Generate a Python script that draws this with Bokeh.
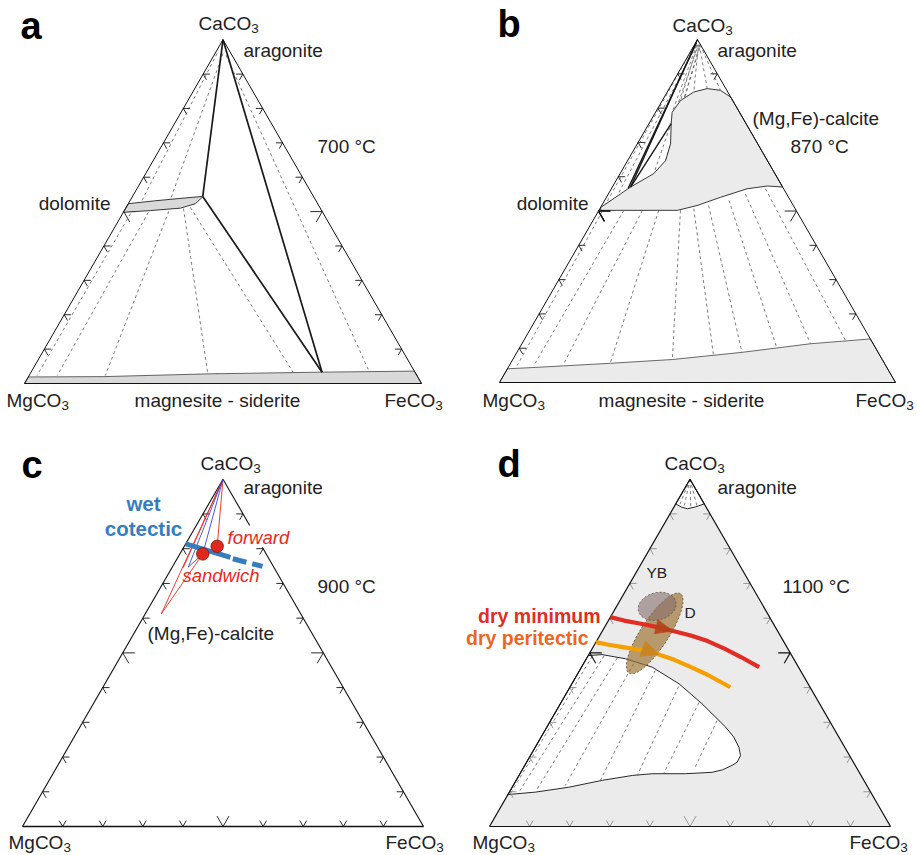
import numpy as np
from bokeh.plotting import figure
from bokeh.models import Range1d
from bokeh.embed import file_html
from bokeh.resources import INLINE
from bokeh.core.properties import value

# ---------------- data: compositions as (X_CaCO3, X_FeCO3); X_MgCO3 = 1 - both ----------------
TICKS = [0.1, 0.2, 0.3, 0.4, 0.5, 0.6, 0.7, 0.8, 0.9]
APEX = (1.0, 0.0)

# panel a  (700 °C)
A_DOLO_UPPER = [(0.523, 0.000), (0.531, 0.060), (0.538, 0.120), (0.544, 0.176)]
A_DOLO_LOWER = [(0.498, 0.000), (0.503, 0.066), (0.510, 0.138), (0.523, 0.169), (0.542, 0.177)]
A_BAND_TOP = [(0.019, 0.000), (0.020, 0.190), (0.028, 0.450), (0.033, 0.733), (0.036, 0.964)]
A_SOLID = [[APEX, (0.544, 0.177)], [(0.544, 0.177), (0.033, 0.733)], [APEX, (0.033, 0.733)]]
A_TIES = [[(0.960, 0.005), (0.525, 0.030)], [(0.960, 0.020), (0.535, 0.100)],
          [(0.955, 0.030), (0.038, 0.848)],
          [(0.494, 0.020), (0.023, 0.020)], [(0.498, 0.063), (0.023, 0.071)],
          [(0.501, 0.113), (0.023, 0.192)], [(0.509, 0.146), (0.026, 0.449)],
          [(0.512, 0.162), (0.030, 0.663)]]

# panel b  (870 °C)
B_CAL_UPPER = [(0.510, 0.000), (0.570, 0.046), (0.609, 0.085), (0.647, 0.096), (0.696, 0.084),
               (0.755, 0.056), (0.788, 0.042), (0.822, 0.046), (0.847, 0.067), (0.857, 0.096),
               (0.852, 0.132), (0.832, 0.168)]
B_CAL_LOWER = [(0.570, 0.430), (0.573, 0.390), (0.565, 0.343), (0.540, 0.288), (0.516, 0.241),
               (0.502, 0.198), (0.502, 0.147), (0.502, 0.063), (0.502, 0.005)]
B_BAND_TOP = [(0.040, 0.000), (0.044, 0.069), (0.056, 0.252), (0.067, 0.403), (0.088, 0.569),
              (0.113, 0.729), (0.127, 0.873)]
B_SOLID = [[APEX, (0.570, 0.046)], [(0.990, 0.002), (0.566, 0.042)], [(0.570, 0.046), (0.755, 0.056)]]
B_TIES = [[(0.980, 0.000), (0.520, 0.008)], [(0.980, 0.006), (0.545, 0.025)],
          [(0.975, 0.012), (0.609, 0.085)], [(0.975, 0.016), (0.647, 0.096)],
          [(0.975, 0.018), (0.696, 0.084)],
          [(0.985, 0.006), (0.788, 0.042)], [(0.985, 0.008), (0.822, 0.046)],
          [(0.985, 0.010), (0.847, 0.067)], [(0.985, 0.012), (0.857, 0.096)],
          [(0.985, 0.014), (0.852, 0.132)],
          [(0.500, 0.010), (0.050, 0.020)], [(0.502, 0.063), (0.050, 0.062)],
          [(0.502, 0.110), (0.055, 0.135)], [(0.502, 0.151), (0.059, 0.251)],
          [(0.502, 0.206), (0.069, 0.402)], [(0.507, 0.237), (0.074, 0.504)],
          [(0.516, 0.270), (0.084, 0.571)], [(0.531, 0.314), (0.098, 0.652)],
          [(0.550, 0.346), (0.113, 0.729)], [(0.565, 0.389), (0.123, 0.812)]]

# panel c  (900 °C)
C_WET_SOLID = [(0.814, 0.000), (0.775, 0.131)]
C_WET_DASHED = [(0.771, 0.139), (0.749, 0.224)]
C_FORWARD = (0.807, 0.082)
C_SANDWICH = (0.785, 0.057)
C_RED_TIES = [[APEX, (0.612, 0.040)], [(0.612, 0.040), C_SANDWICH], [APEX, C_FORWARD],
              [APEX, (0.745, 0.028)]]
C_BLUE_TIES = [[APEX, (0.747, 0.040)], [(0.747, 0.040), C_SANDWICH], [APEX, C_SANDWICH]]

# panel d  (1100 °C)
D_CAP = [(0.929, 0.000), (0.920, 0.018), (0.915, 0.036), (0.920, 0.053), (0.929, 0.071)]
D_CAP_TIES = [[APEX, (0.921, 0.012)], [APEX, (0.917, 0.026)], [APEX, (0.916, 0.044)],
              [APEX, (0.920, 0.058)]]
D_SOLVUS = [(0.492, 0.000), (0.495, 0.033), (0.483, 0.098), (0.459, 0.176), (0.411, 0.267),
            (0.353, 0.354), (0.286, 0.446), (0.257, 0.481), (0.228, 0.508), (0.204, 0.524),
            (0.185, 0.525), (0.176, 0.517), (0.163, 0.499), (0.156, 0.477), (0.152, 0.413),
            (0.152, 0.330), (0.147, 0.283), (0.133, 0.215), (0.113, 0.141), (0.099, 0.065),
            (0.092, 0.000)]
D_TIES = [[(0.490, 0.011), (0.094, 0.005)], [(0.491, 0.040), (0.098, 0.024)],
          [(0.485, 0.076), (0.109, 0.065)], [(0.469, 0.125), (0.118, 0.130)],
          [(0.449, 0.189), (0.133, 0.210)], [(0.403, 0.270), (0.147, 0.295)],
          [(0.357, 0.344), (0.154, 0.358)], [(0.305, 0.415), (0.164, 0.428)]]
D_DRY_MIN = [(0.603, 0.000), (0.593, 0.039), (0.584, 0.086), (0.574, 0.132), (0.562, 0.179),
             (0.550, 0.227), (0.534, 0.277), (0.512, 0.330), (0.488, 0.383), (0.459, 0.443)]
D_DRY_PER = [(0.531, 0.000), (0.524, 0.032), (0.516, 0.078), (0.509, 0.123), (0.497, 0.170),
             (0.480, 0.221), (0.459, 0.273), (0.437, 0.325), (0.401, 0.400)]
D_ARROW_MIN = [(0.569, 0.152), (0.550, 0.227)]
D_ARROW_PER = [(0.504, 0.150), (0.480, 0.221)]
# natural carbonatite fields: centre, semi-axes (fraction of side), tilt (deg)
D_YB = ((0.634, 0.101), 0.034, 0.048, 105)
D_D = ((0.556, 0.134), 0.118, 0.035, 57)

# ---------------- layout ----------------
W, H = 917, 855
PANEL = {"a": (24, 383, 397), "b": (499, 382, 396), "c": (22, 826, 401), "d": (489, 826, 401)}
FONT = "Liberation Sans"
SQ3 = np.sqrt(3.0)
EM = {"CaCO": 2.778, "MgCO": 2.889, "FeCO": 2.667}

p = figure(width=W, height=H, x_range=Range1d(0, W), y_range=Range1d(0, H),
           output_backend="svg", toolbar_location=None, min_border=0,
           x_axis_type=None, y_axis_type=None)
p.grid.visible = False
p.outline_line_color = None
p.background_fill_color = "white"


def tern(pn, pts):
    ox, oy, s = PANEL[pn]
    ca = np.array([q[0] for q in pts], dtype=float)
    fe = np.array([q[1] for q in pts], dtype=float)
    return ox + s * (fe + ca / 2.0), (H - oy) + s * SQ3 / 2.0 * ca


def pl(pn, pts, **kw):
    x, y = tern(pn, pts)
    p.line(x, y, **kw)


def ml(pn, lines, **kw):
    xs, ys = [], []
    for ln in lines:
        x, y = tern(pn, ln)
        xs.append(list(x)); ys.append(list(y))
    p.multi_line(xs, ys, **kw)


def patch(pn, pts, **kw):
    x, y = tern(pn, pts)
    p.patch(x, y, **kw)


def tick_lines(pn, sides, big_only=False, small_only=False, L=0.017, Lb=0.030):
    out = []
    for c in TICKS:
        big = abs(c - 0.5) < 1e-9
        if big_only and not big:
            continue
        if small_only and big:
            continue
        l = Lb if big else L
        if "l" in sides:
            out.append([(c, l), (c, 0.0), (c - l, l)])
        if "r" in sides:
            out.append([(c, 1 - c - l), (c, 1 - c), (c - l, 1 - c)])
        if "b" in sides:
            out.append([(l, c), (0.0, c), (l, c - l)])
    return out


def edges(pn, **kw):
    pl(pn, [(0, 0), (0, 1), (1, 0), (0, 0)], **kw)


def txt(s, px, py, size="19px", align="left", color="#222222", style="normal"):
    p.text(x=[px], y=[H - py], text=[s], text_font=value(FONT), text_font_size=size,
           text_align=align, text_baseline="middle", text_color=color, text_font_style=style)


def chem(prefix, left, yc, size=19.0, sub_dy=5.4):
    txt(prefix, left, yc, size=f"{size}px")
    txt("3", left + EM[prefix] * size, yc + sub_dy, size="13.5px")


def panel_letter(s, left, baseline_y, size=38.0):
    txt(s, left, baseline_y - 0.3465 * size, size=f"{size}px", style="bold", color="#000000")


def ellipse(pn, spec, n=80):
    (c, a, b, ang) = spec
    cx, cy = tern(pn, [c])
    s = PANEL[pn][2]
    t = np.linspace(0, 2 * np.pi, n)
    th = np.radians(ang)
    x = cx[0] + s * (a * np.cos(t) * np.cos(th) - b * np.sin(t) * np.sin(th))
    y = cy[0] + s * (a * np.cos(t) * np.sin(th) + b * np.sin(t) * np.cos(th))
    return x, y


def arrowhead(pn, pair, length, half, color, alpha):
    x, y = tern(pn, pair)
    u = np.array([x[1] - x[0], y[1] - y[0]])
    u = u / np.hypot(*u)
    nrm = np.array([-u[1], u[0]])
    c = np.array([x[0], y[0]])
    tip = c + u * length / 2
    b1 = c - u * length / 2 + nrm * half
    b2 = c - u * length / 2 - nrm * half
    p.patch([tip[0], b1[0], b2[0]], [tip[1], b1[1], b2[1]], fill_color=color, fill_alpha=alpha,
            line_color=color, line_alpha=alpha, line_width=0.8)


TIE = dict(line_color="#5a5a5a", line_width=0.8, line_dash="3 3")
TICK = dict(line_color="#111111", line_width=0.9)

# ================= panel a =================
ml("a", tick_lines("a", "lrb"), **TICK)
ml("a", A_TIES, **TIE)
patch("a", A_DOLO_UPPER + A_DOLO_LOWER[::-1], fill_color="#d9d9d9", line_color="#222222", line_width=0.9)
patch("a", A_BAND_TOP + [(0.0, 1.0), (0.0, 0.0)], fill_color="#d9d9d9", line_color="#555555", line_width=0.9)
ml("a", A_SOLID, line_color="#1a1a1a", line_width=1.7)
edges("a", line_color="#111111", line_width=1.0)
panel_letter("a", 20, 38.3)
chem("CaCO", 198, 23)
txt("aragonite", 243, 50)
txt("700 °C", 317, 146)
txt("dolomite", 110, 203, align="right")
chem("MgCO", 6, 400)
txt("magnesite - siderite", 217, 400, align="center")
chem("FeCO", 384, 400)

# ================= panel b =================
ml("b", tick_lines("b", "lrb"), **TICK)
ml("b", B_TIES, **TIE)
patch("b", B_CAL_UPPER + B_CAL_LOWER, fill_color="#ebebeb", line_color="#222222", line_width=0.9)
patch("b", B_BAND_TOP + [(0.0, 1.0), (0.0, 0.0)], fill_color="#ebebeb", line_color="#444444", line_width=0.8)
ml("b", B_SOLID, line_color="#1a1a1a", line_width=1.4)
ml("b", tick_lines("b", "l", big_only=True), line_color="#111111", line_width=1.6)
edges("b", line_color="#111111", line_width=1.0)
panel_letter("b", 497, 36.7)
chem("CaCO", 672, 25)
txt("aragonite", 717, 50)
txt("(Mg,Fe)-calcite", 752, 118)
txt("870 °C", 790, 146)
txt("dolomite", 588, 203, align="right")
chem("MgCO", 482, 400)
txt("magnesite - siderite", 681, 400, align="center")
chem("FeCO", 855, 400)

# ================= panel c =================
ml("c", tick_lines("c", "lrb"), **TICK)
pl("c", [(0, 0), (0, 1)], line_color="#111111", line_width=1.3)
pl("c", [(0, 0), APEX], line_color="#111111", line_width=1.1)
pl("c", [APEX, (0.867, 0.133)], line_color="#111111", line_width=1.1)
pl("c", [(0.804, 0.196), (0.0, 1.0)], line_color="#111111", line_width=1.1)
ml("c", C_RED_TIES, line_color="#e8291c", line_width=0.9)
ml("c", C_BLUE_TIES, line_color="#3f48c8", line_width=0.9)
pl("c", C_WET_SOLID, line_color="#377dbe", line_width=5, line_cap="butt")
pl("c", C_WET_DASHED, line_color="#377dbe", line_width=5, line_dash="14 6", line_cap="butt")
cx, cy = tern("c", [C_FORWARD, C_SANDWICH])
p.scatter(cx, cy, size=12.5, fill_color="#e1281e", line_color="#7a1a10", line_width=0.8)
panel_letter("c", 21, 478)
chem("CaCO", 200, 463)
txt("aragonite", 243, 487)
txt("wet", 143, 503, align="center", size="20.5px", style="bold", color="#377dbe")
txt("cotectic", 143, 528, align="center", size="20.5px", style="bold", color="#377dbe")
txt("forward", 227, 537, size="18.5px", style="italic", color="#e8291c")
txt("sandwich", 182, 575, size="18.5px", style="italic", color="#e8291c")
txt("900 °C", 317, 586)
txt("(Mg,Fe)-calcite", 147, 633)
chem("MgCO", 8, 842, sub_dy=4.5)
chem("FeCO", 385, 842, sub_dy=4.5)

# ================= panel d =================
patch("d", [(0, 0), (0, 1), APEX], fill_color="#ebebeb", line_color=None)
patch("d", D_SOLVUS, fill_color="white", line_color="#111111", line_width=0.9)
patch("d", D_CAP + [APEX], fill_color="white", line_color="#111111", line_width=0.9)
ml("d", D_TIES, **TIE)
ml("d", D_CAP_TIES, **TIE)
ml("d", tick_lines("d", "lrb", small_only=True), line_color="#8c8c8c", line_width=0.9)
ml("d", tick_lines("d", "b", big_only=True), line_color="#8c8c8c", line_width=0.9)
ml("d", tick_lines("d", "lr", big_only=True), line_color="#111111", line_width=1.1)
edges("d", line_color="#111111", line_width=1.2)
yx, yy = ellipse("d", D_D)
p.patch(yx, yy, fill_color="#9c7131", fill_alpha=0.68, line_color="#5a4a3a", line_width=0.8, line_dash="2 2")
ex, ey = ellipse("d", D_YB)
p.patch(ex, ey, fill_color="#876e6e", fill_alpha=0.6, line_color="#5a4a4a", line_width=0.8, line_dash="2 2")
pl("d", D_DRY_MIN, line_color="#e12d23", line_width=4.2, line_cap="butt", line_join="round")
pl("d", D_DRY_PER, line_color="#f5a000", line_width=4.2, line_cap="butt", line_join="round")
arrowhead("d", D_ARROW_MIN, 17, 7, "#b5421a", 0.9)
arrowhead("d", D_ARROW_PER, 17, 8, "#c98320", 0.9)
panel_letter("d", 497, 476.7)
chem("CaCO", 664, 463)
txt("aragonite", 717, 487)
txt("YB", 646, 572, size="15.5px")
txt("D", 684, 612, size="15.5px")
txt("1100 °C", 782, 586)
txt("dry minimum", 600, 615, align="right", size="19.5px", style="bold", color="#e12d23")
txt("dry peritectic", 588, 637, align="right", size="19.5px", style="bold", color="#f0641e")
chem("MgCO", 472, 842, sub_dy=4.5)
chem("FeCO", 849, 842, sub_dy=4.5)

open("out.html", "w").write(file_html(p, INLINE))
